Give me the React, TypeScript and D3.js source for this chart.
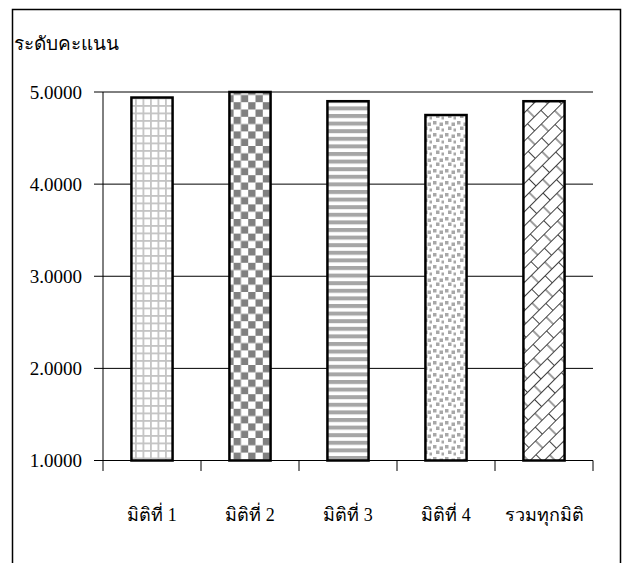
import React from "react";
import * as d3 from "d3";

const categories = ["มิติที่ 1", "มิติที่ 2", "มิติที่ 3", "มิติที่ 4", "รวมทุกมิติ"];
const scores = [4.94, 5.0, 4.9, 4.75, 4.9];
const yTicks = [1, 2, 3, 4, 5];
const yTitle = "ระดับคะแนน";
const patternIds = ["pGrid", "pChecker", "pStripes", "pDots", "pBrick"];

const W = 622;
const H = 563;
const left = 103;
const right = 593;
const top = 92;
const bottom = 460.5;

export default function App() {
  const x = d3.scaleBand<string>().domain(categories).range([left, right]).padding(0);
  const y = d3.scaleLinear().domain([1, 5]).range([bottom, top]);
  const fmt = d3.format(".4f");
  const bw = x.bandwidth() * 0.42;
  const font = "Liberation Serif, Times New Roman, Times, serif";
  const tickEdges = [...categories.map((c) => x(c) as number), right];

  return (
    <svg
      width={W}
      height={H}
      style={{ position: "absolute", left: 0, top: 0, background: "#fff" }}
    >
      <defs>
        <pattern id="pGrid" width={7.5} height={7.5} patternUnits="userSpaceOnUse">
          <rect width={7.5} height={7.5} fill="#fff" />
          <rect x={0} y={0} width={1.8} height={7.5} fill="#c4c4c4" />
          <rect x={0} y={0} width={7.5} height={1.8} fill="#c4c4c4" />
        </pattern>
        <pattern id="pChecker" width={14.6} height={14.6} patternUnits="userSpaceOnUse">
          <rect width={14.6} height={14.6} fill="#fff" />
          <rect x={0} y={0} width={7.3} height={7.3} fill="#808080" />
          <rect x={7.3} y={7.3} width={7.3} height={7.3} fill="#808080" />
        </pattern>
        <pattern id="pStripes" width={8} height={7.6} patternUnits="userSpaceOnUse">
          <rect width={8} height={7.6} fill="#fff" />
          <rect x={0} y={0} width={8} height={4} fill="#a6a6a6" />
        </pattern>
        <pattern id="pDots" width={12} height={12} patternUnits="userSpaceOnUse">
          <rect width={12} height={12} fill="#fff" />
          <rect x={1} y={1} width={3.5} height={3.5} fill="#a8a8a8" />
          <rect x={7.5} y={2.5} width={3.5} height={3.5} fill="#a8a8a8" />
          <rect x={4} y={6.5} width={3.5} height={3.5} fill="#a8a8a8" />
          <rect x={9.5} y={8.5} width={3} height={3} fill="#a8a8a8" />
        </pattern>
        <pattern
          id="pBrick"
          width={19}
          height={20}
          patternUnits="userSpaceOnUse"
          patternTransform="rotate(-45)"
        >
          <rect width={19} height={20} fill="#fff" />
          <path
            d="M0,0.5 H19 M0,10.5 H19 M0.5,0.5 V10.5 M10,10.5 V20.5"
            stroke="#404040"
            strokeWidth={1}
            fill="none"
          />
        </pattern>
      </defs>

      {/* outer frame */}
      <path d={`M12.5,${H + 2} V9.5 H620.5 V${H + 2}`} fill="none" stroke="#000" strokeWidth={1.5} />

      {/* y title */}
      <text x={14} y={50} fontFamily={font} fontSize={19} fill="#000">
        {yTitle}
      </text>

      {/* gridlines */}
      {yTicks.filter((t) => t > 1).map((t) => (
        <line key={"g" + t} x1={left} x2={right} y1={y(t)} y2={y(t)} stroke="#000" strokeWidth={1} />
      ))}

      {/* y ticks & labels */}
      {yTicks.map((t) => (
        <g key={"yt" + t}>
          <line x1={94} x2={left} y1={y(t)} y2={y(t)} stroke="#000" strokeWidth={1} />
          <text
            x={82}
            y={y(t)}
            dy="0.35em"
            textAnchor="end"
            fontFamily={font}
            fontSize={19}
            fill="#000"
          >
            {fmt(t)}
          </text>
        </g>
      ))}

      {/* bars */}
      {categories.map((c, i) => {
        const cx = (x(c) as number) + x.bandwidth() / 2;
        return (
          <rect
            key={c}
            x={cx - bw / 2}
            y={y(scores[i])}
            width={bw}
            height={bottom - y(scores[i])}
            fill={`url(#${patternIds[i]})`}
            stroke="#000"
            strokeWidth={2.5}
          />
        );
      })}

      {/* axes */}
      <line x1={left} x2={left} y1={top} y2={bottom} stroke="#000" strokeWidth={1} />
      <line x1={left} x2={right} y1={bottom} y2={bottom} stroke="#000" strokeWidth={1.2} />
      {tickEdges.map((tx, i) => (
        <line key={"xt" + i} x1={tx} x2={tx} y1={bottom} y2={471} stroke="#000" strokeWidth={1} />
      ))}

      {/* category labels */}
      {categories.map((c) => (
        <text
          key={"l" + c}
          x={(x(c) as number) + x.bandwidth() / 2}
          y={521}
          textAnchor="middle"
          fontFamily={font}
          fontSize={18}
          fill="#000"
        >
          {c}
        </text>
      ))}
    </svg>
  );
}
